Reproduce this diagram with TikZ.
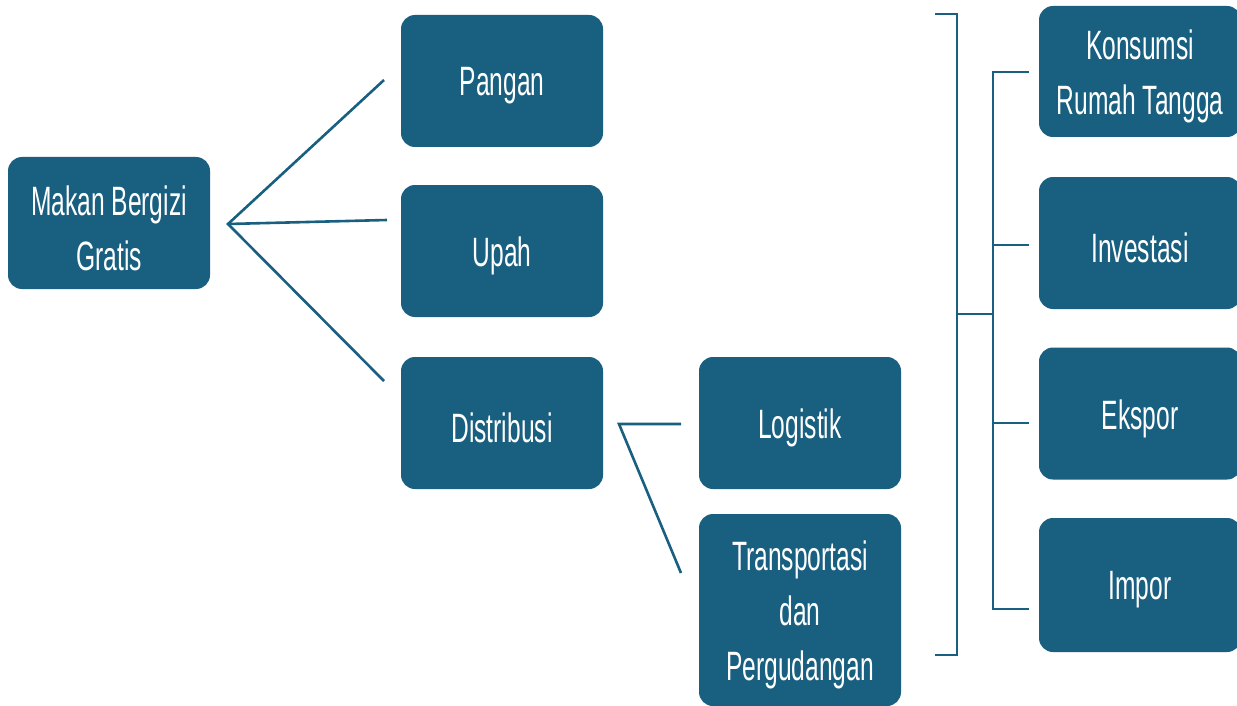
\documentclass[tikz,border=0pt]{standalone}
\usepackage{fontspec}
\setmainfont[FakeStretch=0.6]{Liberation Sans}
\definecolor{boxblue}{RGB}{24,95,128}
\begin{document}
\begin{tikzpicture}[x=1pt,y=-1pt,
  box/.style={rectangle,rounded corners=14pt,fill=boxblue,draw=none,
    inner sep=0pt,minimum width=202pt,minimum height=132pt,
    label={[txt]center:{#1}}},
  txt/.style={text=white,align=center,inner sep=0pt,yshift=-5pt,
    font=\fontsize{41}{55}\selectfont},
  conn/.style={draw=boxblue,line width=2.6pt}]
\clip (0,0) rectangle (1237,706);
\fill[white] (0,0) rectangle (1237,706);
% nodes
\node[box={Makan Bergizi\\Gratis}] (mbg) at (109,223) {};
\node[box={Pangan}] (pangan) at (502,81) {};
\node[box={Upah}] (upah) at (502,251) {};
\node[box={Distribusi}] (dist) at (502,423) {};
\node[box={Logistik}] (log) at (800,423) {};
\node[box={Transportasi\\dan\\Pergudangan},minimum height=192pt] (trans) at (800,610) {};
\node[box={Konsumsi\\Rumah Tangga},minimum height=131pt] (kons) at (1140,71.5) {};
\node[box={Investasi}] (inv) at (1140,243) {};
\node[box={Ekspor}] (eks) at (1140,413.5) {};
\node[box={Impor},minimum height=134pt] (imp) at (1140,585) {};
% connector coordinates
\coordinate (m0) at (228,224);
\coordinate (m1) at (384,80);
\coordinate (m2) at (387,220);
\coordinate (m3) at (384,381);
\coordinate (d0) at (619,424);
\coordinate (d1) at (681,424);
\coordinate (d2) at (681,573);
\coordinate (bt0) at (935,14);
\coordinate (bt1) at (957,14);
\coordinate (bb0) at (935,655);
\coordinate (bb1) at (957,655);
\coordinate (bm0) at (957,314);
\coordinate (bm1) at (993,314);
\coordinate (it) at (993,72);
\coordinate (ib) at (993,609);
\coordinate (k1) at (1029,72);
\coordinate (i1a) at (993,245);
\coordinate (i1) at (1029,245);
\coordinate (e1a) at (993,423);
\coordinate (e1) at (1029,423);
\coordinate (p1) at (1029,609);
% connectors
\draw[conn] (m1) -- (m0) -- (m3);
\draw[conn] (m0) -- (m2);
\draw[conn] (d1) -- (d0) -- (d2);
\draw[conn] (bt0) -- (bt1) -- (bb1) -- (bb0);
\draw[conn] (bm0) -- (bm1);
\draw[conn] (k1) -- (it) -- (ib) -- (p1);
\draw[conn] (i1a) -- (i1);
\draw[conn] (e1a) -- (e1);
\end{tikzpicture}
\end{document}
